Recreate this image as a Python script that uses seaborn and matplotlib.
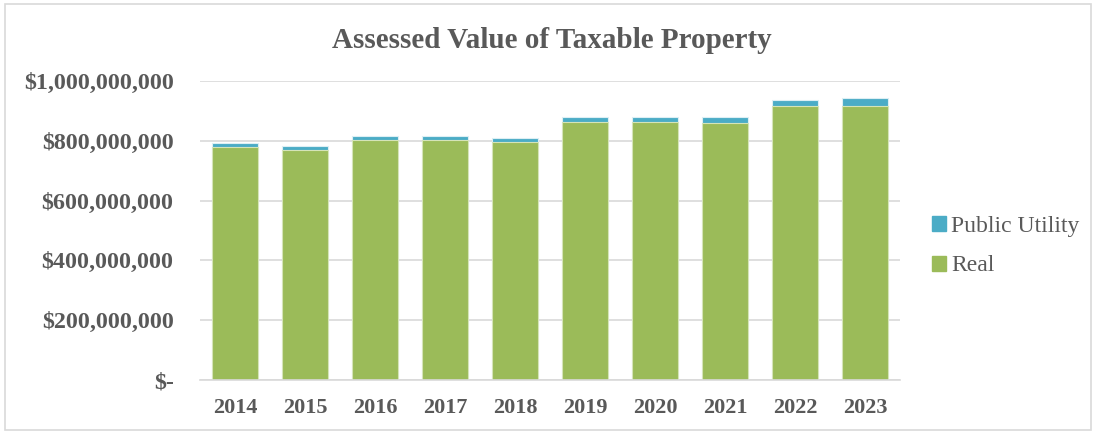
import pandas as pd
import numpy as np
import matplotlib
matplotlib.use('Agg')
import matplotlib.pyplot as plt
import seaborn as sns
from matplotlib.ticker import FuncFormatter
from matplotlib.patches import Patch, Rectangle

years = ['2014', '2015', '2016', '2017', '2018', '2019', '2020', '2021', '2022', '2023']
real = [778e6, 768e6, 802e6, 802e6, 795e6, 863e6, 863e6, 860e6, 916e6, 917e6]
public_utility = [13e6, 14e6, 15e6, 14e6, 15e6, 16e6, 17e6, 20e6, 20e6, 25e6]

df = pd.DataFrame({'year': years, 'real': real, 'pu': public_utility})
df['total'] = df['real'] + df['pu']

sns.set_style('white')
plt.rcParams['font.family'] = ['Liberation Serif', 'DejaVu Serif']

green = '#9BBB59'
blue = '#4BACC6'
grey = '#595959'

fig = plt.figure(figsize=(10.96, 4.34), dpi=100)
ax = fig.add_axes([200 / 1096, 54 / 434, 700 / 1096, 299 / 434])

# stacked bars: total first, then real on top of it
sns.barplot(data=df, x='year', y='total', color=blue, width=0.66, ax=ax,
            edgecolor='#DDEFF4', linewidth=0.8, saturation=1)
sns.barplot(data=df, x='year', y='real', color=green, width=0.66, ax=ax,
            edgecolor='#D5E4B8', linewidth=0.8, saturation=1)

ax.set_ylim(0, 1e9)
ax.set_xlim(-0.5, 9.5)
ax.set_yticks(np.arange(0, 1.0001e9, 2e8))


def money(v, pos):
    if v == 0:
        return '$-'
    return '${:,.0f}'.format(v)


ax.yaxis.set_major_formatter(FuncFormatter(money))
ax.yaxis.grid(True, color='#D9D9D9', linewidth=1.2)
ax.set_axisbelow(True)
for s in ['top', 'right', 'left']:
    ax.spines[s].set_visible(False)
ax.spines['bottom'].set_color('#D9D9D9')
ax.spines['bottom'].set_linewidth(1.2)
ax.tick_params(axis='x', length=0, labelsize=16, labelcolor=grey, pad=13)
ax.tick_params(axis='y', length=0, labelsize=17.3, labelcolor=grey, pad=19)
for lab in ax.get_xticklabels() + ax.get_yticklabels():
    lab.set_fontweight('bold')
ax.set_xlabel('')
ax.set_ylabel('')

fig.text(552 / 1096, 1 - 41 / 434, 'Assessed Value of Taxable Property',
         ha='center', va='center', fontsize=21, fontweight='bold', color=grey)

handles = [Patch(color=blue, label='Public Utility'), Patch(color=green, label='Real')]
fig.legend(handles=handles, loc='center left', bbox_to_anchor=(911 / 1096, 1 - 246 / 434),
           frameon=False, fontsize=17, labelcolor=grey, handlelength=0.6, handleheight=0.6,
           handletextpad=0.2, labelspacing=0.8)

fig.patches.append(Rectangle((5 / 1096, 4 / 434), 1086 / 1096, 426 / 434, transform=fig.transFigure,
                             fill=False, edgecolor='#D9D9D9', linewidth=1.2))

fig.savefig('out.png', dpi=100)
